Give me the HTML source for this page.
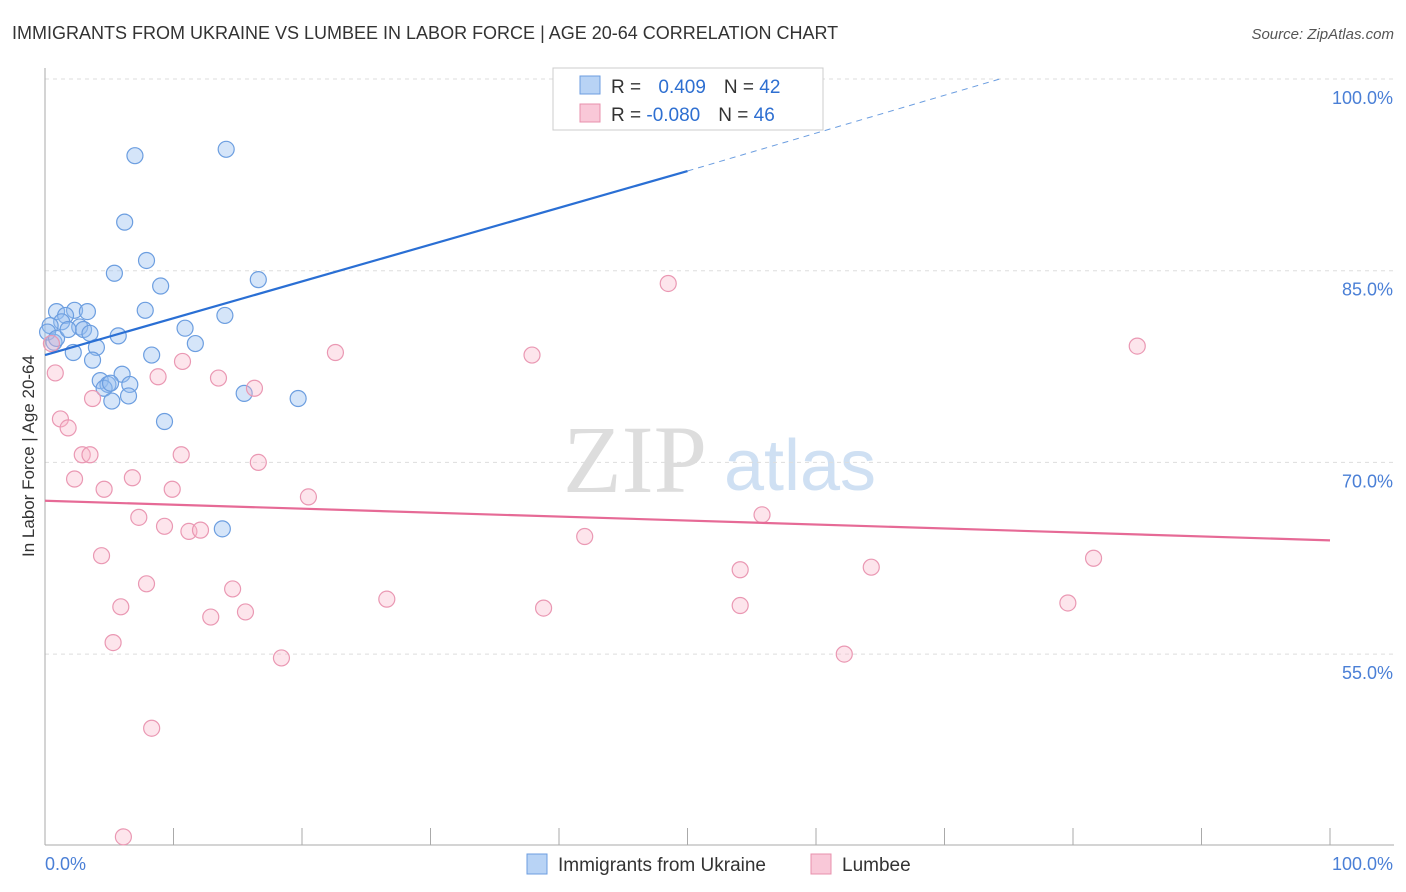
<!DOCTYPE html>
<html><head><meta charset="utf-8"><style>
body{margin:0;background:#fff;font-family:"Liberation Sans",sans-serif;}
svg{display:block}
</style></head><body>
<svg width="1406" height="892" id="chart">
<text x="12" y="39" font-size="18" fill="#333">IMMIGRANTS FROM UKRAINE VS LUMBEE IN LABOR FORCE | AGE 20-64 CORRELATION CHART</text>
<text x="1394" y="39" font-size="15" fill="#555" text-anchor="end" font-style="italic">Source: ZipAtlas.com</text>
<text x="635" y="492" font-size="96" fill="#ddd" text-anchor="middle" font-family="Liberation Serif">ZIP</text>
<text x="800" y="490" font-size="72" fill="#cfe0f3" text-anchor="middle">atlas</text>
<text x="34" y="456" font-size="17" fill="#333" text-anchor="middle" transform="rotate(-90 34 456)">In Labor Force | Age 20-64</text>
<g id="grid"></g><g id="pts"></g><g id="lines"></g>
<g>
<rect x="553" y="68" width="270" height="62" fill="#fff" stroke="#ccc"/>
<rect x="580" y="76" width="20" height="18" fill="#b8d3f5" stroke="#6c9ee0"/>
<rect x="580" y="104" width="20" height="18" fill="#f9c8d8" stroke="#e890ac"/>
<text x="611" y="93" font-size="19" fill="#333">R = <tspan fill="#2e6fd1" dx="12">0.409</tspan><tspan dx="18" fill="#333">N = </tspan><tspan fill="#2e6fd1">42</tspan></text>
<text x="611" y="121" font-size="19" fill="#333">R = <tspan fill="#2e6fd1">-0.080</tspan><tspan dx="18" fill="#333">N = </tspan><tspan fill="#2e6fd1">46</tspan></text>
</g>
<g>
<rect x="527" y="854" width="20" height="20" fill="#b8d3f5" stroke="#6c9ee0"/>
<text x="558" y="871" font-size="19" fill="#333">Immigrants from Ukraine</text>
<rect x="811" y="854" width="20" height="20" fill="#f9c8d8" stroke="#e890ac"/>
<text x="842" y="871" font-size="19" fill="#333">Lumbee</text>
</g>
</svg>
<script>
const yTicks=[100,85,70,55];
const xTickLabels=["0.0%","100.0%"];
const blueX=[7.0,14.1,6.2,7.9,5.4,9.0,16.6,7.8,14.0,0.9,2.3,3.3,1.6,1.3,0.4,2.7,3.0,3.5,5.7,10.9,0.7,2.2,4.0,11.7,8.3,3.7,6.0,4.3,4.9,6.6,4.6,6.5,5.2,15.5,19.7,9.3,13.8,50.0,0.2,0.9,1.8,5.1];
const blueY=[94.0,94.5,88.8,85.8,84.8,83.8,84.3,81.9,81.5,81.8,81.9,81.8,81.5,81.0,80.7,80.6,80.4,80.1,79.9,80.5,79.4,78.6,79.0,79.3,78.4,78.0,76.9,76.4,76.1,76.1,75.8,75.2,74.8,75.4,75.0,73.2,64.8,100.1,80.2,79.7,80.4,76.2];
const pinkX=[48.5,85.0,22.6,37.9,0.5,0.8,10.7,8.8,13.5,16.3,3.7,1.2,1.8,2.9,3.5,10.6,16.6,2.3,6.8,4.6,9.9,20.5,7.3,9.3,11.2,12.1,55.8,42.0,4.4,81.6,7.9,14.6,54.1,64.3,5.9,26.6,38.8,15.6,12.9,54.1,79.6,5.3,18.4,62.2,8.3,6.1];
const pinkY=[84.0,79.1,78.6,78.4,79.3,77.0,77.9,76.7,76.6,75.8,75.0,73.4,72.7,70.6,70.6,70.6,70.0,68.7,68.8,67.9,67.9,67.3,65.7,65.0,64.6,64.7,65.9,64.2,62.7,62.5,60.5,60.1,61.6,61.8,58.7,59.3,58.6,58.3,57.9,58.8,59.0,55.9,54.7,55.0,49.2,40.7];
const blueLine=[[0,78.4],[50,92.8]], blueDash=[[50,92.8],[74.3,100]];
const pinkLine=[[0,67.0],[100,63.9]];
const X=v=>45+v/100*1285, Y=v=>79+(100-v)*12.78;
const ns="http://www.w3.org/2000/svg";
function mk(t,a,p){const e=document.createElementNS(ns,t);for(const k in a)e.setAttribute(k,a[k]);p.appendChild(e);return e;}
const g=document.getElementById('grid');
yTicks.forEach(t=>{
 const l=mk('line',{x1:45,x2:1394,y1:Y(t),y2:Y(t),stroke:'#ddd','stroke-dasharray':'4 4'},g);
 
 
 const tx=mk('text',{x:1393,y:Y(t)+25,'font-size':18,fill:'#4a7fd6','text-anchor':'end'},g);tx.textContent=t.toFixed(1)+'%';
 
 
});
const ax=mk('line',{x1:45,x2:45,y1:68,y2:845,stroke:'#aaa'},g);


const bx=mk('line',{x1:45,x2:1394,y1:845,y2:845,stroke:'#aaa'},g);


for(let i=0;i<=10;i++){const t=mk('line',{x1:X(i*10),x2:X(i*10),y1:828,y2:845,stroke:'#aaa'},g);
 
 }
[[0,'start',45],[1,'end',1393]].forEach(([i,a,x])=>{const t=mk('text',{x:x,y:870,'font-size':18,fill:'#4a7fd6','text-anchor':a},g);t.textContent=xTickLabels[i];
 
 });
const p=document.getElementById('pts');
blueX.forEach((v,i)=>{const c=mk('circle',{cx:X(v),cy:Y(blueY[i]),r:8,fill:'rgba(150,190,240,0.4)',stroke:'#6c9ee0','stroke-width':1.2},p);
 
 });
pinkX.forEach((v,i)=>{const c=mk('circle',{cx:X(v),cy:Y(pinkY[i]),r:8,fill:'rgba(248,180,200,0.35)',stroke:'#ea98b3','stroke-width':1.2},p);
 
 });
const L=document.getElementById('lines');
let e=mk('line',{x1:X(blueLine[0][0]),y1:Y(blueLine[0][1]),x2:X(blueLine[1][0]),y2:Y(blueLine[1][1]),stroke:'#2a6fd4','stroke-width':2.2},L);


e=mk('line',{x1:X(blueDash[0][0]),y1:Y(blueDash[0][1]),x2:X(blueDash[1][0]),y2:Y(blueDash[1][1]),stroke:'#6c9ee0','stroke-width':1,'stroke-dasharray':'6 5'},L);


e=mk('line',{x1:X(pinkLine[0][0]),y1:Y(pinkLine[0][1]),x2:X(pinkLine[1][0]),y2:Y(pinkLine[1][1]),stroke:'#e66a96','stroke-width':2.2},L);


</script>
</body></html>
